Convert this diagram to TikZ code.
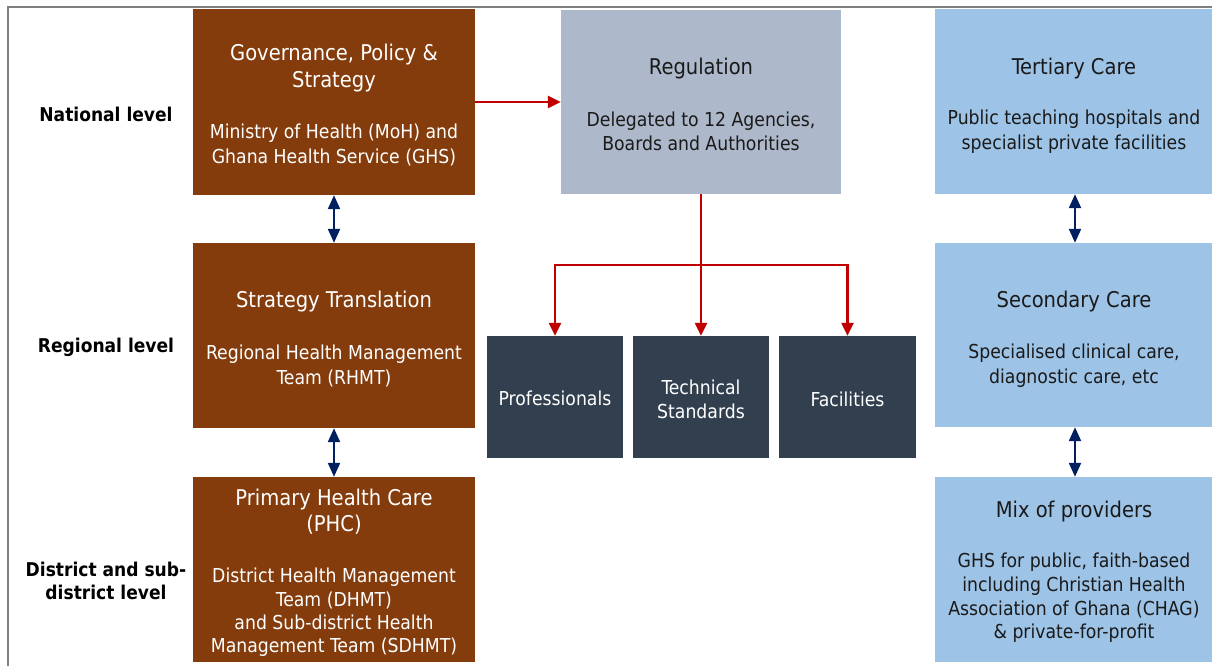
\documentclass[tikz,border=0pt]{standalone}
\usepackage{fontspec}
\setmainfont{DejaVu Sans Condensed}
\usetikzlibrary{arrows.meta}
\definecolor{brownbox}{HTML}{843C0C}
\definecolor{regbox}{HTML}{ADB9CA}
\definecolor{darkbox}{HTML}{323F4F}
\definecolor{bluebox}{HTML}{9DC3E6}
\definecolor{redarrow}{HTML}{C00000}
\definecolor{navyarrow}{HTML}{002060}
\definecolor{framegray}{HTML}{7F7F7F}
\definecolor{darktext}{HTML}{1A1A1A}
\begin{document}
\begin{tikzpicture}[x=1pt,y=-1pt,
  box/.style={rectangle, inner sep=0pt, draw=none},
  brownb/.style={box, fill=brownbox},
  regb/.style={box, fill=regbox},
  darkb/.style={box, fill=darkbox, minimum height=122pt},
  blueb/.style={box, fill=bluebox},
  ttl/.style={font=\fontsize{21.7}{27}\selectfont, align=center, inner sep=0pt},
  bod/.style={font=\fontsize{19.2}{24.5}\selectfont, align=center, inner sep=0pt},
  lvl/.style={font=\bfseries\fontsize{19}{23}\selectfont, align=center, inner sep=0pt, text=black},
  redarr/.style={draw=redarrow, line width=2.4pt, -{Triangle[length=13pt,width=12pt]}},
  navyarr/.style={draw=navyarrow, line width=2.2pt, {Triangle[length=14pt,width=12pt]}-{Triangle[length=14pt,width=12pt]}}
]
\useasboundingbox (0,0) rectangle (1212,666);
\clip (0,0) rectangle (1212,666);
\fill[white] (0,0) rectangle (1212,666);
\draw[framegray, line width=2pt] (8,670) -- (8,7) -- (1215,7);

% left column (brown)
\node[brownb, minimum width=282pt, minimum height=186pt] (gov) at (334,102) {};
\node[brownb, minimum width=282pt, minimum height=185pt] (strat) at (334,335.5) {};
\node[brownb, minimum width=282pt, minimum height=185pt] (phc) at (334,569.5) {};

% regulation
\node[regb, minimum width=280pt, minimum height=184pt] (reg) at (701,102) {};
\node[darkb, minimum width=136pt] (prof) at (555,397) {};
\node[darkb, minimum width=136pt] (tech) at (701,397) {};
\node[darkb, minimum width=137pt] (fac) at (847.5,397) {};

% right column (blue)
\node[blueb, minimum width=280pt, minimum height=185pt] (tert) at (1075,101.5) {};
\node[blueb, minimum width=280pt, minimum height=184pt] (sec) at (1075,335) {};
\node[blueb, minimum width=280pt, minimum height=185pt] (mix) at (1075,569.5) {};

% texts
\node[ttl, text=white] (govT) at (334,68.5) {Governance, Policy \&\\Strategy};
\node[bod, text=white] (govB) at (334,145) {Ministry of Health (MoH) and\\Ghana Health Service (GHS)};
\node[ttl, text=white] (stratT) at (334,302) {Strategy Translation};
\node[bod, text=white] (stratB) at (334,366) {Regional Health Management\\Team (RHMT)};
\node[ttl, font=\fontsize{21.7}{26}\selectfont, text=white] (phcT) at (334,512) {Primary Health Care\\(PHC)};
\node[bod, font=\fontsize{19.2}{23.3}\selectfont, text=white] (phcB) at (334,612.5) {District Health Management\\Team (DHMT)\\and Sub-district Health\\Management Team (SDHMT)};

\node[ttl, text=darktext] (regT) at (701,69) {Regulation};
\node[bod, text=darktext] (regB) at (701,131.5) {Delegated to 12 Agencies,\\Boards and Authorities};
\node[bod, text=white] (profT) at (555,398.5) {Professionals};
\node[bod, font=\fontsize{19.2}{24}\selectfont, text=white] (techT) at (701,399.5) {Technical\\Standards};
\node[bod, text=white] (facT) at (847.5,399.5) {Facilities};

\node[ttl, text=darktext] (tertT) at (1074,69) {Tertiary Care};
\node[bod, text=darktext] (tertB) at (1074,131.5) {Public teaching hospitals and\\specialist private facilities};
\node[ttl, text=darktext] (secT) at (1074,302) {Secondary Care};
\node[bod, text=darktext] (secB) at (1074,365.5) {Specialised clinical care,\\diagnostic care, etc};
\node[ttl, text=darktext] (mixT) at (1074,512) {Mix of providers};
\node[bod, font=\fontsize{19.2}{23.7}\selectfont, text=darktext] (mixB) at (1074,598) {GHS for public, faith-based\\including Christian Health\\Association of Ghana (CHAG)\\\& private-for-profit};

% level labels
\node[lvl] (nat) at (106,114.5) {National level};
\node[lvl] (regl) at (106,347.5) {Regional level};
\node[lvl] (dist) at (106,581) {District and sub-\\district level};

% connectors
\draw[redarr] (gov.east) -- (reg.west);
\coordinate (branch) at (701,265);
\draw[redarr] (reg.south) -- (tech.north);
\draw[redarr] (branch) -| (prof.north);
\draw[redarr] (branch) -| (fac.north);

\draw[navyarr] (gov.south) -- (strat.north);
\draw[navyarr] (strat.south) -- (phc.north);
\draw[navyarr] (tert.south) -- (sec.north);
\draw[navyarr] (sec.south) -- (mix.north);
\end{tikzpicture}
\end{document}
